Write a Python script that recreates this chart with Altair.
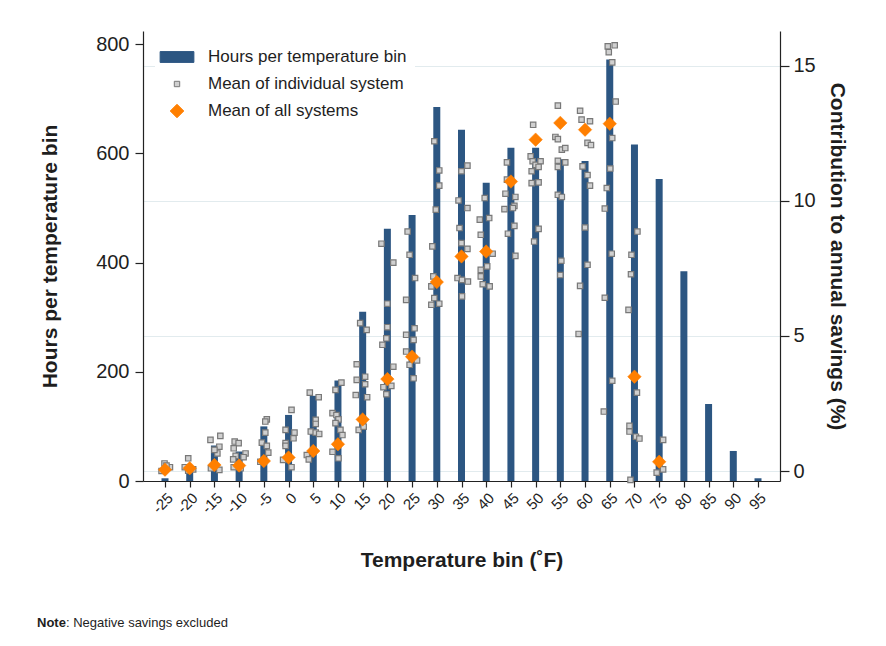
import altair as alt
import pandas as pd

FONT = "Liberation Sans"
INK = "#1e1e1e"

# Temperature bins (°F) and hours spent in each bin
temps = list(range(-25, 100, 5))
hours = [5, 20, 65, 54, 100, 121, 156, 184, 310, 462, 487, 685, 643, 546,
         610, 610, 589, 586, 772, 616, 553, 384, 141, 55, 5]

# Mean contribution to annual savings (%) across all systems
mean_temps = list(range(-25, 80, 5))
mean_all = [0.05, 0.1, 0.22, 0.2, 0.37, 0.5, 0.74, 0.99, 1.91, 3.4, 4.23,
            6.99, 7.94, 8.12, 10.71, 12.26, 12.88, 12.63, 12.85, 3.49, 0.34]

# Per-system means: bin, small horizontal jitter (°F) and contribution (%)
ind_bin = (
    [-25] * 4 + [-20] * 4 + [-15] * 7 + [-10] * 9 + [-5] * 7 + [0] * 8
    + [5] * 9 + [10] * 10 + [15] * 10 + [20] * 10 + [25] * 11 + [30] * 10
    + [35] * 11 + [40] * 10 + [45] * 10 + [50] * 11 + [55] * 12 + [60] * 12
    + [65] * 13 + [70] * 10 + [75] * 3
)
ind_jitter = [
    -0.1, 1.0, -0.7, 0.3,
    -0.3, -1.0, 0.7, -0.3,
    -0.8, 1.2, 1.0, 0.6, -0.7, 1.0, 0.0,
    -0.9, -0.1, -1.1, -0.7, -1.2, 1.3, 0.9, -1.1, 0.3,
    0.6, 0.3, 0.3, -0.4, 0.6, 0.9, -0.7,
    0.6, -0.6, 1.2, 1.0, -0.6, -0.6, 0.6, -1.1,
    -0.7, 1.1, 0.5, 0.5, -0.5, 0.5, 1.2, -1.3, -0.9,
    -0.5, 0.7, -1.1, -0.3, 0.1, -0.5, 0.5, 0.9, -1.1, 0.1,
    -0.5, 0.8, -1.2, 0.5, -1.2, 0.5, -1.4, 0.9, -0.8, 0.2,
    -1.2, 1.2, 0.0, 0.0, -0.2, -1.0, 1.2, 0.8, -0.8, -0.2,
    -0.9, -0.5, 0.6, -1.2, 0.5, -1.2, 0.3, -1.2, 1.0, -0.5, 0.3,
    -0.5, 0.5, 0.5, -0.2, -0.9, -0.7, -1.1, -0.5, -1.1, 0.5,
    1.2, 0.0, -0.6, 1.2, -0.4, 0.0, 1.2, -0.8, 0.1, 1.3, 0.1,
    -0.3, -1.3, 0.6, -1.1, 0.2, -1.1, -1.1, -0.7, 0.7, 1.3,
    -0.8, -0.8, -1.1, 0.9, 0.7, 0.4, -1.3, -0.6, 0.7, 0.9,
    -0.5, -1.0, -0.6, 0.0, 1.0, 0.6, -0.8, -0.8, 0.6, 0.6, -0.3,
    -0.5, -1.0, -0.5, 0.3, 1.0, -0.5, 1.0, -0.5, -0.5, 0.3, 0.2, 0.0,
    -1.0, -0.7, 1.0, 0.5, 1.2, -0.5, 0.5, 1.0, 0.0, 0.5, -1.0, -1.3,
    -0.4, 1.0, -0.2, 0.5, 1.2, 0.5, 0.1, -0.6, -1.0, 0.4, -1.0, 0.5, -1.2,
    0.6, -0.6, -0.7, -1.2, 0.5, -1.0, -1.0, 0.3, 1.0, -0.8,
    0.8, -0.5, 0.8,
]
ind_value = [
    0.28, 0.14, 0.0, 0.2,
    0.47, 0.14, 0.06, 0.01,
    1.15, 1.3, 0.9, 0.65, 0.1, 0.04, 0.78,
    1.09, 1.03, 0.84, 0.56, 0.43, 0.65, 0.51, 0.14, 0.1,
    1.91, 1.83, 1.42, 1.05, 0.93, 0.68, 0.34,
    2.26, 1.52, 1.42, 1.21, 1.03, 0.93, 0.14, 0.41,
    2.9, 2.73, 1.89, 1.74, 1.46, 1.42, 1.37, 0.59, 0.43,
    3.0, 3.27, 2.14, 2.07, 1.91, 1.77, 1.52, 1.33, 0.71, 0.47,
    5.47, 5.22, 3.95, 3.49, 3.37, 3.21, 2.81, 2.73, 1.52, 1.64,
    8.41, 7.71, 6.19, 5.32, 4.91, 4.67, 3.86, 3.15, 3.1, 2.84,
    8.86, 8.0, 7.14, 6.33, 5.28, 5.04, 4.85, 4.42, 4.09, 3.93, 3.43,
    12.2, 11.12, 10.56, 9.67, 8.31, 7.2, 6.83, 6.4, 6.15, 6.19,
    11.3, 11.09, 10.01, 9.73, 8.99, 8.43, 8.22, 7.14, 7.07, 7.01, 6.46,
    10.1, 9.3, 9.36, 8.74, 7.57, 7.44, 7.2, 6.91, 6.83, 8.04,
    11.42, 10.78, 10.26, 10.14, 9.81, 9.73, 9.69, 8.78, 9.07, 7.96,
    12.81, 11.64, 11.46, 11.33, 11.46, 11.25, 11.09, 10.65, 10.68, 8.96, 8.49,
    13.52, 12.36, 12.28, 11.89, 11.95, 11.48, 11.42, 11.25, 10.22, 10.14, 7.78, 7.25,
    13.33, 13.0, 12.94, 12.14, 12.06, 11.27, 10.95, 10.56, 9.01, 7.63, 6.85, 5.07,
    15.71, 15.75, 15.5, 15.12, 13.67, 12.32, 11.19, 10.47, 9.71, 8.04, 6.41, 3.34, 2.2,
    8.86, 8.0, 7.28, 5.96, 2.9, 1.67, 1.46, 1.27, 1.2, -0.33,
    1.15, -0.06, 0.06,
]

S_BAR = "Hours per temperature bin"
S_IND = "Mean of individual system"
S_ALL = "Mean of all systems"
series = [S_BAR, S_IND, S_ALL]

bar_df = pd.DataFrame({"temp": temps, "hours": hours, "series": S_BAR})
ind_df = pd.DataFrame({
    "temp": [b + j for b, j in zip(ind_bin, ind_jitter)],
    "value": ind_value,
    "series": S_IND,
})
all_df = pd.DataFrame({"temp": mean_temps, "value": mean_all, "series": S_ALL})

# Symbol paths (unit box), shared by the marks and the legend
BAR_PATH = "M-1.25,-0.4H1.25V0.4H-1.25Z"
SQUARE_PATH = "M-0.2,-0.2H0.2V0.2H-0.2Z"
DIAMOND_PATH = "M0,-0.5L0.5,0L0,0.5L-0.5,0Z"
SYM = 729

legend = alt.Legend(
    title=None, orient="none", legendX=12, legendY=4,
    symbolSize=SYM, symbolStrokeWidth=1, rowPadding=5,
    labelFont=FONT, labelFontSize=17, labelColor=INK, labelOffset=17,
    labelLimit=400, padding=8, fillColor="white",
)
fill_enc = alt.Fill("series:N", legend=legend, scale=alt.Scale(
    domain=series, range=["#2c5682", "#d0d0d0", "#ff7f00"]))
stroke_enc = alt.Stroke("series:N", legend=legend, scale=alt.Scale(
    domain=series, range=["#2c5682", "#787878", "#ff7f00"]))
shape_enc = alt.Shape("series:N", legend=legend, scale=alt.Scale(
    domain=series, range=[BAR_PATH, SQUARE_PATH, DIAMOND_PATH]))

x_enc = alt.X(
    "temp:Q",
    scale=alt.Scale(domain=[-28.44, 98.44], nice=False, zero=False),
    axis=alt.Axis(
        values=temps, labelAngle=-45, labelFontSize=15, tickSize=6,
        labelPadding=3, labelOverlap=False, labelExpr="'' + datum.value",
        title="Temperature bin (˚F)", titlePadding=34, grid=False,
    ),
)

bars = alt.Chart(bar_df).mark_bar(size=7, opacity=1).encode(
    x=x_enc,
    y=alt.Y(
        "hours:Q",
        scale=alt.Scale(domain=[0, 824], nice=False),
        axis=alt.Axis(
            orient="left", values=[0, 200, 400, 600, 800], grid=False,
            tickSize=8, labelPadding=6, labelFontSize=20,
            title="Hours per temperature bin", titlePadding=35,
        ),
    ),
    fill=fill_enc,
)

y_right = alt.Y(
    "value:Q",
    scale=alt.Scale(domain=[-0.37, 16.28], nice=False, zero=False),
    axis=alt.Axis(
        orient="right", values=[0, 5, 10, 15], grid=True, gridColor="#e2ebee",
        gridWidth=1.2, tickSize=9, labelPadding=4, labelFontSize=20,
        title="Contribution to annual savings (%)", titlePadding=11,
    ),
)

squares = alt.Chart(ind_df).mark_point(
    filled=True, size=SYM, opacity=1, strokeWidth=1.2
).encode(x=x_enc, y=y_right, fill=fill_enc, stroke=stroke_enc, shape=shape_enc)

diamonds = alt.Chart(all_df).mark_point(
    filled=True, size=SYM, opacity=1, strokeWidth=0.5
).encode(x=x_enc, y=y_right, fill=fill_enc, stroke=stroke_enc, shape=shape_enc)

note_bold = alt.Chart(pd.DataFrame({"t": ["Note"]})).mark_text(
    font=FONT, fontSize=13, fontWeight="bold", color=INK, align="left",
    baseline="middle",
).encode(x=alt.value(-106), y=alt.value(592), text="t:N")
note_rest = alt.Chart(pd.DataFrame({"t": [": Negative savings excluded"]})).mark_text(
    font=FONT, fontSize=13, color=INK, align="left", baseline="middle",
).encode(x=alt.value(-77), y=alt.value(592), text="t:N")

chart = (
    alt.layer(bars, alt.layer(squares, diamonds), note_bold, note_rest)
    .resolve_scale(y="independent")
    .properties(
        width=637, height=450,
        autosize=alt.AutoSizeParams(type="none"),
        padding={"left": 143, "top": 31, "right": 106, "bottom": 165},
        background="white",
    )
    .configure_view(stroke=None)
    .configure_axis(
        labelFont=FONT, titleFont=FONT, labelColor=INK, titleColor=INK,
        titleFontSize=21, titleFontWeight="bold", domainColor="#222222",
        tickColor="#222222", domainWidth=1.2, tickWidth=1.2,
    )
)

chart.save("out.html", embed_options={"renderer": "svg", "actions": False})
